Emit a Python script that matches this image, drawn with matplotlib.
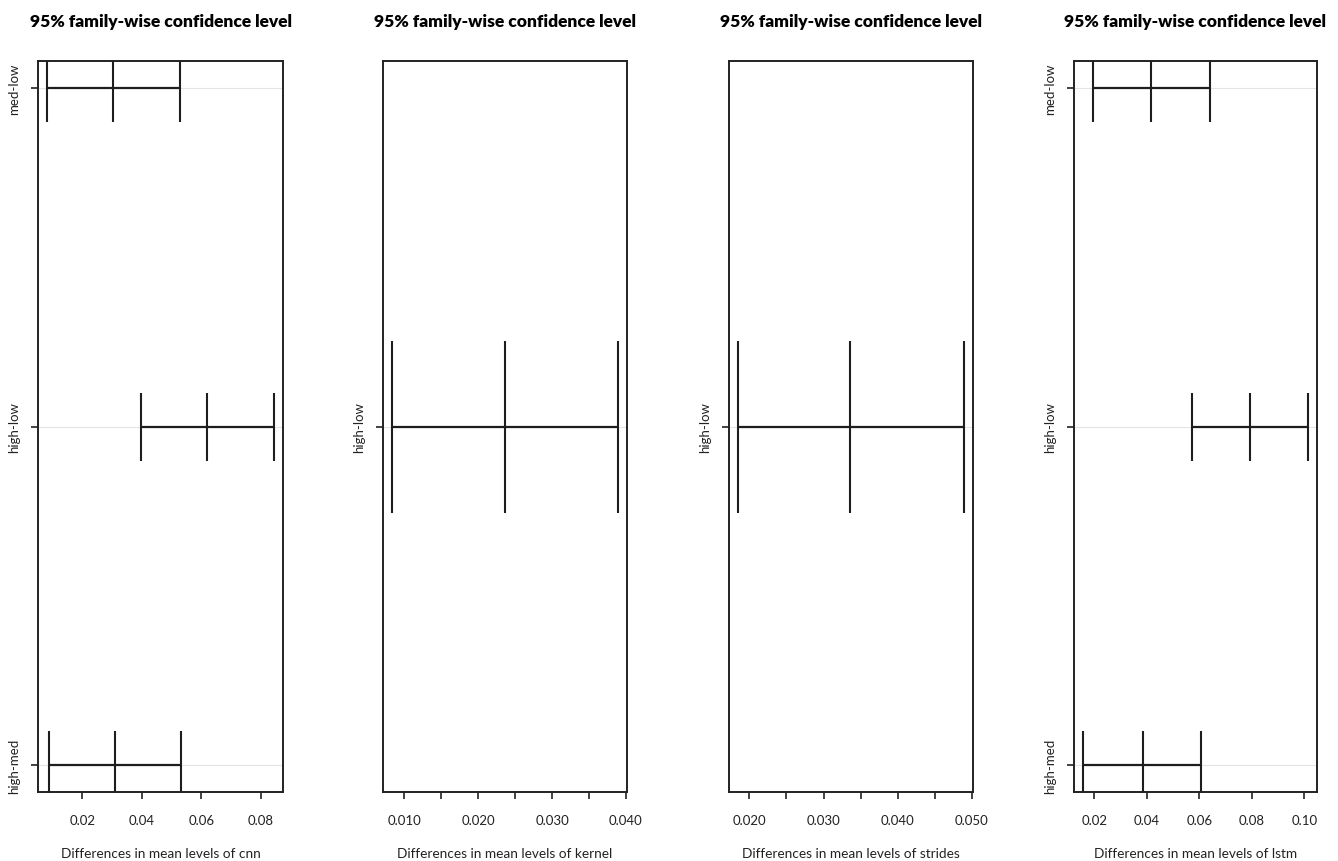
import matplotlib.pyplot as plt

# Tukey HSD 결과 (diff, lwr, upr) - 그림에서 읽은 값
labels_cnn = ['med-low', 'high-low', 'high-med']
diff_cnn = [0.0305, 0.0618, 0.0311]
lwr_cnn = [0.0082, 0.0397, 0.0089]
upr_cnn = [0.0530, 0.0844, 0.0533]

labels_kernel = ['high-low']
diff_kernel = [0.02364]
lwr_kernel = [0.00834]
upr_kernel = [0.03893]

labels_strides = ['high-low']
diff_strides = [0.03357]
lwr_strides = [0.01848]
upr_strides = [0.04893]

labels_lstm = ['med-low', 'high-low', 'high-med']
diff_lstm = [0.0417, 0.0792, 0.0385]
lwr_lstm = [0.0195, 0.0571, 0.0157]
upr_lstm = [0.0640, 0.1014, 0.0605]

xticks_cnn = [0.02, 0.04, 0.06, 0.08]
xticks_kernel = [0.010, 0.015, 0.020, 0.025, 0.030, 0.035, 0.040]
xticks_strides = [0.020, 0.025, 0.030, 0.035, 0.040, 0.045, 0.050]
xticks_lstm = [0.02, 0.04, 0.06, 0.08, 0.10]

plt.rcParams['font.family'] = ['Lato', 'DejaVu Sans']


def tukey_panel(ax, labels, diff, lwr, upr, xticks, fmt, name, msize):
    n = len(labels)
    y = list(range(n, 0, -1))  # 위에서부터 첫 비교

    for yi in y:
        ax.axhline(yi, color='#e4e4e4', lw=0.8, zorder=0)
    ax.hlines(y, lwr, upr, color='#1e1e1e', lw=1.6)
    for xs in (lwr, diff, upr):
        ax.plot(xs, y, ls='none', marker='|', markersize=msize,
                markeredgewidth=1.5, color='#1e1e1e', clip_on=True)

    lo, hi = min(lwr), max(upr)
    ext = (hi - lo) * 0.04
    ax.set_xlim(lo - ext, hi + ext)
    if n > 1:
        ax.set_ylim(1 - (n - 1) * 0.04, n + (n - 1) * 0.04)
    else:
        ax.set_ylim(0.6, 1.4)

    ax.set_xticks(xticks)
    if len(xticks) > 5:
        ax.set_xticklabels([fmt.format(v) if i % 2 == 0 else ''
                            for i, v in enumerate(xticks)])
    else:
        ax.set_xticklabels([fmt.format(v) for v in xticks])
    ax.set_yticks(y)
    ax.set_yticklabels(labels, rotation=90, va='center', fontsize=9.5)

    ax.tick_params(axis='x', length=5, width=1.2, pad=11, labelsize=9.5,
                   colors='#222222')
    ax.tick_params(axis='y', length=5, width=1.2, pad=8, colors='#222222')
    for s in ax.spines.values():
        s.set_linewidth(1.4)
        s.set_color('#222222')

    ax.set_title('95% family-wise confidence level', fontsize=12.5,
                 fontweight='heavy', pad=25)
    ax.set_xlabel('Differences in mean levels of ' + name, fontsize=9.8,
                  labelpad=15, color='#222222')


fig = plt.figure(figsize=(13.38, 8.62), dpi=100)
bottom = 1 - 793 / 862
height = 731 / 862
ax1 = fig.add_axes([38 / 1338, bottom, 245 / 1338, height])
ax2 = fig.add_axes([383 / 1338, bottom, 244 / 1338, height])
ax3 = fig.add_axes([729 / 1338, bottom, 244 / 1338, height])
ax4 = fig.add_axes([1074 / 1338, bottom, 243 / 1338, height])

tukey_panel(ax1, labels_cnn, diff_cnn, lwr_cnn, upr_cnn,
            xticks_cnn, '{:.2f}', 'cnn', 49)
tukey_panel(ax2, labels_kernel, diff_kernel, lwr_kernel, upr_kernel,
            xticks_kernel, '{:.3f}', 'kernel', 124)
tukey_panel(ax3, labels_strides, diff_strides, lwr_strides, upr_strides,
            xticks_strides, '{:.3f}', 'strides', 124)
tukey_panel(ax4, labels_lstm, diff_lstm, lwr_lstm, upr_lstm,
            xticks_lstm, '{:.2f}', 'lstm', 49)

fig.savefig('out.png', dpi=100)
